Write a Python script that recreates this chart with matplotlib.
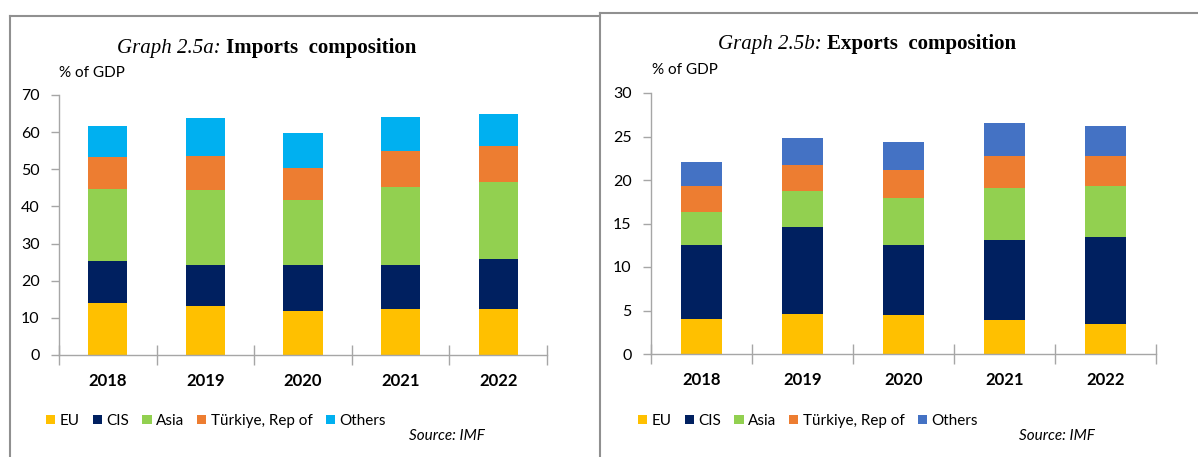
import matplotlib
matplotlib.use("Agg")
import matplotlib.pyplot as plt
from matplotlib.patches import Patch
from matplotlib.lines import Line2D
import numpy as np

years = ["2018", "2019", "2020", "2021", "2022"]
series_names = ["EU", "CIS", "Asia", "Türkiye, Rep of", "Others"]

imp_eu = [13.9, 13.2, 11.8, 12.4, 12.4]
imp_cis = [11.4, 10.9, 12.3, 11.7, 13.4]
imp_asia = [19.5, 20.2, 17.6, 21.1, 20.9]
imp_tur = [8.5, 9.3, 8.7, 9.7, 9.7]
imp_oth = [8.4, 10.1, 9.3, 9.1, 8.5]

exp_eu = [4.05, 4.62, 4.43, 3.86, 3.48]
exp_cis = [8.45, 9.98, 8.07, 9.21, 9.93]
exp_asia = [3.85, 4.09, 5.42, 6.0, 5.85]
exp_tur = [2.91, 3.01, 3.25, 3.70, 3.51]
exp_oth = [2.79, 3.18, 3.17, 3.75, 3.48]

imp_colors = ["#FFC000", "#002060", "#92D050", "#ED7D31", "#00B0F0"]
exp_colors = ["#FFC000", "#002060", "#92D050", "#ED7D31", "#4472C4"]

W, H = 1198, 457
fig = plt.figure(figsize=(W / 100, H / 100), dpi=100)

SANS = ["Lato", "DejaVu Sans"]
SERIF = ["Liberation Serif", "DejaVu Serif"]
GRAY = "#A6A6A6"


def fx(px):
    return px / W


def fy(py):
    return 1 - py / H


def make_panel(rect, data, colors, ymax, ystep):
    x0, y0, x1, y1 = rect
    ax = fig.add_axes([fx(x0), fy(y1), fx(x1 - x0), fy(y0) - fy(y1)])
    x = np.arange(len(years))
    bottom = np.zeros(len(years))
    for vals, c in zip(data, colors):
        ax.bar(x, vals, width=0.4, bottom=bottom, color=c, linewidth=0)
        bottom += np.array(vals)
    ax.set_xlim(-0.5, len(years) - 0.5)
    ax.set_ylim(0, ymax)
    ticks = np.arange(0, ymax + 0.01, ystep)
    ax.set_yticks(ticks)
    ax.set_yticklabels([f"{int(v)}" for v in ticks],
                       fontfamily=SANS, fontsize=11.5, color="#000000")
    ax.set_xticks(np.arange(-0.5, len(years), 1.0))
    ax.set_xticklabels([])
    ax.set_xticks(x, minor=True)
    ax.set_xticklabels(years, minor=True, fontfamily=SANS, fontsize=12,
                       fontweight="bold")
    ax.tick_params(axis="x", which="major", direction="inout", length=14,
                   color=GRAY, width=1)
    ax.tick_params(axis="x", which="minor", length=0, pad=13)
    ax.tick_params(axis="y", direction="out", length=6, color=GRAY, width=1,
                   pad=8)
    for s in ["top", "right"]:
        ax.spines[s].set_visible(False)
    for s in ["left", "bottom"]:
        ax.spines[s].set_color(GRAY)
        ax.spines[s].set_linewidth(1)
    return ax


make_panel((59, 95, 547, 355),
           [imp_eu, imp_cis, imp_asia, imp_tur, imp_oth], imp_colors, 70, 10)
make_panel((651, 93, 1156, 354),
           [exp_eu, exp_cis, exp_asia, exp_tur, exp_oth], exp_colors, 30, 5)

# titles
fig.text(fx(226), fy(53), "Graph 2.5a: ", ha="right", va="baseline",
         fontfamily=SERIF, fontstyle="italic", fontsize=15)
fig.text(fx(226), fy(53), "Imports  composition", ha="left", va="baseline",
         fontfamily=SERIF, fontweight="bold", fontsize=15)
fig.text(fx(827), fy(49), "Graph 2.5b: ", ha="right", va="baseline",
         fontfamily=SERIF, fontstyle="italic", fontsize=15)
fig.text(fx(827), fy(49), "Exports  composition", ha="left", va="baseline",
         fontfamily=SERIF, fontweight="bold", fontsize=15)

# unit labels
fig.text(fx(59), fy(73), "% of GDP", ha="left", va="center",
         fontfamily=SANS, fontsize=11)
fig.text(fx(652), fy(70), "% of GDP", ha="left", va="center",
         fontfamily=SANS, fontsize=11)

# legends
for colors, xl in [(imp_colors, 46), (exp_colors, 638)]:
    handles = [Patch(facecolor=c, edgecolor="none") for c in colors]
    fig.legend(handles, series_names, ncol=5, loc="center left",
               bbox_to_anchor=(fx(xl), fy(421)), frameon=False,
               prop={"family": SANS, "size": 11},
               handlelength=0.6, handleheight=0.6, handletextpad=0.3,
               columnspacing=0.85, borderaxespad=0, borderpad=0)

# sources
fig.text(fx(485), fy(436), "Source: IMF", ha="right", va="center",
         fontfamily=SANS, fontstyle="italic", fontsize=11)
fig.text(fx(1095), fy(436), "Source: IMF", ha="right", va="center",
         fontfamily=SANS, fontstyle="italic", fontsize=11)

# panel frames
BORDER = "#909090"
for xs, ys in [([10, 600], [16, 16]), ([10, 10], [16, 457]),
               ([600, 600], [13, 457]), ([600, 1198], [13, 13])]:
    fig.add_artist(Line2D([fx(v) for v in xs], [fy(v) for v in ys],
                          color=BORDER, linewidth=1.5))

fig.savefig("out.png", dpi=100)
